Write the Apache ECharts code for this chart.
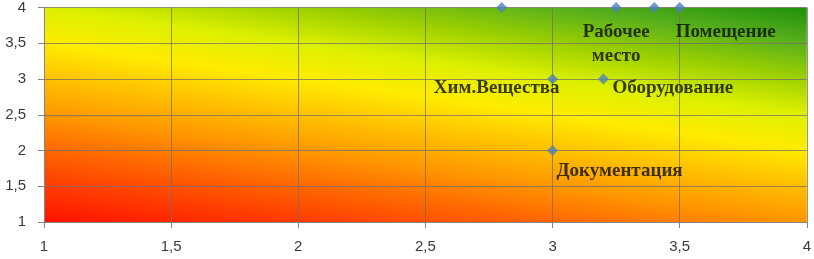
<!DOCTYPE html>
<html>
<head>
<meta charset="utf-8">
<script src="https://cdn.jsdelivr.net/npm/echarts@6/dist/echarts.min.js"></script>
<style>html,body{margin:0;padding:0;background:#fff}#c{width:814px;height:259px}</style>
</head>
<body>
<div id="c"></div>
<script>
const xValues = [2.8, 3.25, 3.4, 3.5, 3, 3.2, 3];
const yValues = [4, 4, 4, 4, 3, 3, 2];
const pointNames = ['', 'Рабочее\nместо', '', 'Помещение', 'Хим.Вещества', 'Оборудование', 'Документация'];
const axisTicks = [1, 1.5, 2, 2.5, 3, 3.5, 4];

// label placement styles (not data)
const labelStyles = [
  null,
  { align: 'center', offset: [0, 37] },
  null,
  { align: 'left', offset: [-4, 25] },
  { align: 'right', offset: [7, 9] },
  { align: 'left', offset: [9, 9] },
  { align: 'left', offset: [4, 21] }
];

const chart = echarts.init(document.getElementById('c'), null, { renderer: 'canvas' });
const fmt = v => String(v).replace('.', ',');

const labelText = {
  fontFamily: 'Liberation Serif',
  fontWeight: 'bold',
  fontSize: 19,
  lineHeight: 24,
  color: '#0e0e0a',
  textBorderWidth: 0,
  textBorderColor: 'transparent',
  textShadowBlur: 0
};

const data = xValues.map((x, i) => {
  const item = { value: [x, yValues[i]], name: pointNames[i] };
  const ls = labelStyles[i];
  if (ls && pointNames[i]) {
    item.label = Object.assign({
      show: true,
      position: 'inside',
      align: ls.align,
      verticalAlign: 'middle',
      offset: ls.offset,
      formatter: '{b}'
    }, labelText);
  }
  return item;
});

chart.setOption({
  animation: false,
  grid: {
    left: 44, right: 6, top: 7, bottom: 37,
    show: true,
    borderWidth: 0,
    backgroundColor: new echarts.graphic.LinearGradient(0, 1, 0.058, -0.471, [
      { offset: 0, color: '#ff1200' },
      { offset: 0.111, color: '#ff3a00' },
      { offset: 0.222, color: '#ff6600' },
      { offset: 0.333, color: '#ff9600' },
      { offset: 0.444, color: '#ffc000' },
      { offset: 0.556, color: '#ffec00' },
      { offset: 0.667, color: '#dcf000' },
      { offset: 0.778, color: '#9cd000' },
      { offset: 0.889, color: '#58b01c' },
      { offset: 1, color: '#1e900c' }
    ])
  },
  xAxis: {
    type: 'value', min: axisTicks[0], max: axisTicks[axisTicks.length - 1], interval: 0.5,
    axisLine: { show: true, lineStyle: { color: '#868686', width: 1 } },
    axisTick: { show: true, length: 6, lineStyle: { color: '#868686' } },
    splitLine: { show: true, lineStyle: { color: 'rgba(120,110,100,0.75)', width: 1 } },
    axisLabel: { margin: 17, fontSize: 15, color: '#3a3a3a', fontFamily: 'Liberation Sans', formatter: fmt }
  },
  yAxis: {
    type: 'value', min: axisTicks[0], max: axisTicks[axisTicks.length - 1], interval: 0.5,
    axisLine: { show: true, lineStyle: { color: '#868686', width: 1 } },
    axisTick: { show: true, length: 6, lineStyle: { color: '#868686' } },
    splitLine: { show: true, lineStyle: { color: 'rgba(120,110,100,0.75)', width: 1 } },
    axisLabel: { margin: 18, fontSize: 15, color: '#3a3a3a', fontFamily: 'Liberation Sans', formatter: fmt }
  },
  series: [{
    type: 'scatter',
    symbol: 'diamond',
    symbolSize: 11,
    clip: false,
    itemStyle: { color: '#4f81bd' },
    label: Object.assign({ show: false }, labelText),
    data: data
  }]
});
</script>
</body>
</html>
